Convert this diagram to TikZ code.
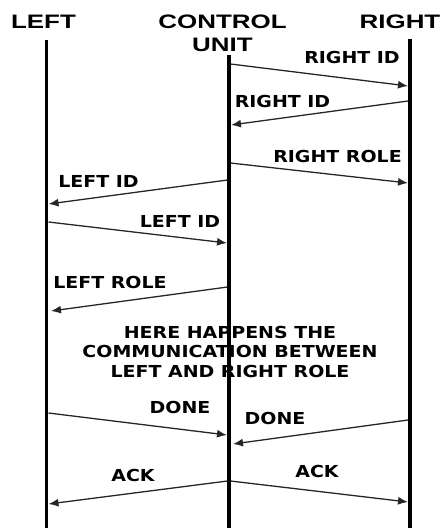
\documentclass[tikz,border=0pt]{standalone}
\usepackage{fontspec}
\newfontfamily\headfont{Liberation Sans}[FakeStretch=1.33]
\newfontfamily\labfont{DejaVu Sans}[FakeStretch=1.15]
\usetikzlibrary{arrows.meta}
\begin{document}
\begin{tikzpicture}[x=1pt,y=-1pt,
  head/.style={inner sep=0pt,anchor=base,font=\headfont\bfseries\fontsize{19.5}{23}\selectfont},
  lab/.style={inner sep=0pt,anchor=base,font=\labfont\bfseries\fontsize{16.5}{19}\selectfont},
  lifeline/.style={line width=3.5pt,black},
  msg/.style={line width=1.3pt,draw=black!85,-{Latex[length=10pt,width=8pt]}}]
\useasboundingbox (0,0) rectangle (443,528);
% headers
\node[head] (hl) at (43.5,28) {LEFT};
\node[head] (hc1) at (222.5,28) {CONTROL};
\node[head] (hc2) at (222.5,51) {UNIT};
\node[head] (hr) at (400,28) {RIGHT};
% labels
\node[lab] (l1) at (352,63) {RIGHT ID};
\node[lab] (l2) at (282.5,107) {RIGHT ID};
\node[lab] (l3) at (337.5,162) {RIGHT ROLE};
\node[lab] (l4) at (98.5,187) {LEFT ID};
\node[lab] (l5) at (180,227) {LEFT ID};
\node[lab] (l6) at (110,288) {LEFT ROLE};
\node[lab] (m1) at (230,338) {HERE HAPPENS THE};
\node[lab] (m2) at (230,357) {COMMUNICATION BETWEEN};
\node[lab] (m3) at (230,377) {LEFT AND RIGHT ROLE};
\node[lab] (l7) at (180,413) {DONE};
\node[lab] (l8) at (275,424) {DONE};
\node[lab] (l9) at (133,481) {ACK};
\node[lab] (l10) at (317,477) {ACK};
% lifelines
\coordinate (Ltop) at (46.5,40);
\coordinate (Lbot) at (46.5,528);
\coordinate (Ctop) at (229,55);
\coordinate (Cbot) at (229,528);
\coordinate (Rtop) at (410,39);
\coordinate (Rbot) at (410,528);
\draw[lifeline] (Ltop) -- (Lbot);
\draw[lifeline] (Ctop) -- (Cbot);
\draw[lifeline] (Rtop) -- (Rbot);
% message end points
\coordinate (a1s) at (230.5,64);  \coordinate (a1e) at (408,86);
\coordinate (a2s) at (408,101);   \coordinate (a2e) at (231,125);
\coordinate (a3s) at (230.5,163); \coordinate (a3e) at (408,183);
\coordinate (a4s) at (227.5,180); \coordinate (a4e) at (48.5,204);
\coordinate (a5s) at (48.5,222);  \coordinate (a5e) at (227,243);
\coordinate (a6s) at (227.5,287); \coordinate (a6e) at (51,311);
\coordinate (a7s) at (48.5,413);  \coordinate (a7e) at (227,435);
\coordinate (a8s) at (408,420);   \coordinate (a8e) at (233,444);
\coordinate (a9s) at (227.5,481); \coordinate (a9e) at (48.5,504);
\coordinate (a10s) at (230.5,481); \coordinate (a10e) at (408,502);
\draw[msg] (a1s) -- (a1e);
\draw[msg] (a2s) -- (a2e);
\draw[msg] (a3s) -- (a3e);
\draw[msg] (a4s) -- (a4e);
\draw[msg] (a5s) -- (a5e);
\draw[msg] (a6s) -- (a6e);
\draw[msg] (a7s) -- (a7e);
\draw[msg] (a8s) -- (a8e);
\draw[msg] (a9s) -- (a9e);
\draw[msg] (a10s) -- (a10e);
\end{tikzpicture}
\end{document}
